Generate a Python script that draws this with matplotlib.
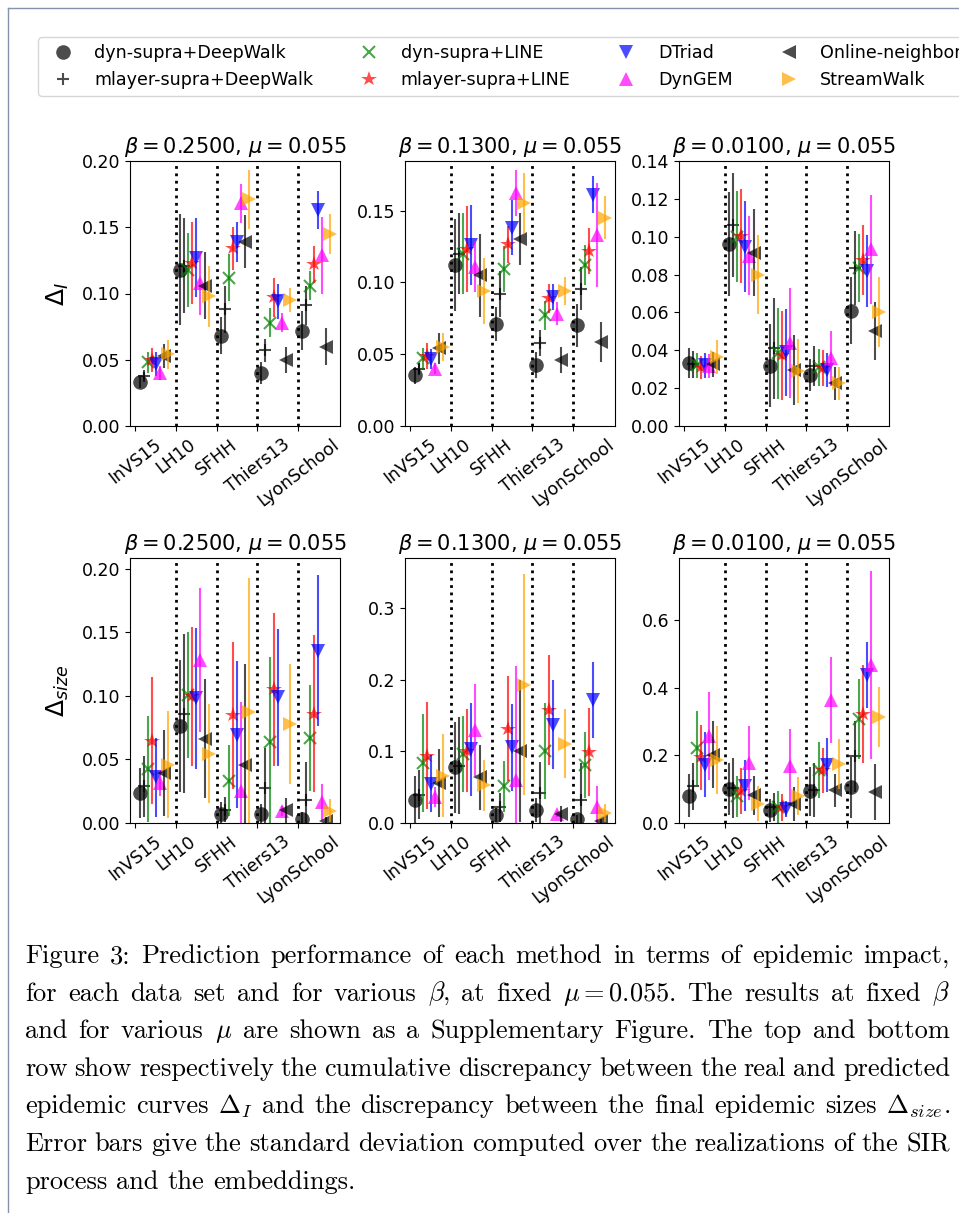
import matplotlib
matplotlib.use('Agg')
import matplotlib.pyplot as plt
from matplotlib.lines import Line2D
import numpy as np

# datasets and methods
DATASETS = ['InVS15', 'LH10', 'SFHH', 'Thiers13', 'LyonSchool']
METHODS = ['dyn-supra+DeepWalk', 'mlayer-supra+DeepWalk', 'dyn-supra+LINE', 'mlayer-supra+LINE',
           'DTriad', 'DynGEM', 'Online-neighbor', 'StreamWalk']
MARKERS = ['o', '+', 'x', '*', 'v', '^', '<', '>']
COLORS = ['k', 'k', 'g', 'r', 'b', 'magenta', 'k', 'orange']
BETAS = [0.25, 0.13, 0.01]
MU = 0.055

# rows = methods, columns = datasets
# Delta_I, beta = 0.25
DI_B025 = [[0.033, 0.118, 0.068, 0.040, 0.072],
           [0.038, 0.121, 0.088, 0.057, 0.091],
           [0.048, 0.118, 0.112, 0.078, 0.106],
           [0.050, 0.123, 0.134, 0.097, 0.122],
           [0.047, 0.127, 0.139, 0.094, 0.163],
           [0.040, 0.108, 0.168, 0.078, 0.129],
           [0.053, 0.106, 0.139, 0.050, 0.060],
           [0.054, 0.098, 0.171, 0.095, 0.145]]
DI_B025_ERR = [[0.004, 0.042, 0.014, 0.008, 0.015],
               [0.003, 0.036, 0.018, 0.009, 0.015],
               [0.008, 0.028, 0.018, 0.011, 0.011],
               [0.009, 0.031, 0.016, 0.015, 0.014],
               [0.009, 0.030, 0.015, 0.013, 0.014],
               [0.005, 0.024, 0.015, 0.007, 0.029],
               [0.009, 0.025, 0.020, 0.010, 0.014],
               [0.011, 0.023, 0.022, 0.009, 0.015]]

# Delta_I, beta = 0.13
DI_B013 = [[0.0354, 0.112, 0.071, 0.0426, 0.070],
           [0.040, 0.120, 0.092, 0.0575, 0.0955],
           [0.047, 0.120, 0.109, 0.077, 0.112],
           [0.049, 0.123, 0.1265, 0.089, 0.1216],
           [0.0466, 0.126, 0.138, 0.0897, 0.161],
           [0.040, 0.111, 0.162, 0.078, 0.133],
           [0.054, 0.105, 0.130, 0.046, 0.0587],
           [0.055, 0.094, 0.155, 0.094, 0.145]]
DI_B013_ERR = [[0.006, 0.032, 0.012, 0.009, 0.015],
               [0.004, 0.028, 0.016, 0.009, 0.015],
               [0.007, 0.028, 0.016, 0.010, 0.014],
               [0.009, 0.030, 0.013, 0.010, 0.016],
               [0.007, 0.028, 0.019, 0.009, 0.013],
               [0.004, 0.018, 0.016, 0.008, 0.036],
               [0.011, 0.029, 0.018, 0.009, 0.014],
               [0.010, 0.023, 0.021, 0.010, 0.015]]

# Delta_I, beta = 0.01
DI_B001 = [[0.0331, 0.096, 0.0319, 0.027, 0.061],
           [0.0326, 0.106, 0.041, 0.0317, 0.0836],
           [0.032, 0.100, 0.0384, 0.031, 0.0836],
           [0.031, 0.1003, 0.0375, 0.0308, 0.0877],
           [0.032, 0.0947, 0.039, 0.0296, 0.082],
           [0.0317, 0.090, 0.044, 0.0357, 0.0933],
           [0.0327, 0.0915, 0.0296, 0.0225, 0.050],
           [0.0363, 0.080, 0.0292, 0.0225, 0.060]]
DI_B001_ERR = [[0.008, 0.0275, 0.022, 0.0085, 0.0176],
               [0.007, 0.0275, 0.0265, 0.0105, 0.0195],
               [0.0065, 0.024, 0.024, 0.0097, 0.018],
               [0.006, 0.025, 0.0235, 0.0095, 0.0187],
               [0.0065, 0.024, 0.023, 0.0088, 0.019],
               [0.0065, 0.021, 0.029, 0.0145, 0.029],
               [0.0066, 0.023, 0.0185, 0.0085, 0.0153],
               [0.009, 0.021, 0.017, 0.0086, 0.0185]]

# Delta_size, beta = 0.25
DS_B025 = [[0.0236, 0.076, 0.0073, 0.0073, 0.0034],
           [0.0288, 0.086, 0.0105, 0.0275, 0.0178],
           [0.0425, 0.101, 0.0333, 0.0637, 0.0668],
           [0.0647, 0.0996, 0.0847, 0.105, 0.086],
           [0.036, 0.098, 0.0695, 0.0988, 0.1355],
           [0.0315, 0.128, 0.0249, 0.0092, 0.0165],
           [0.0393, 0.0663, 0.0459, 0.010, 0.0018],
           [0.0459, 0.0545, 0.0873, 0.0778, 0.0097]]
DS_B025_ERR = [[0.020, 0.052, 0.009, 0.008, 0.005],
               [0.024, 0.0625, 0.010, 0.0315, 0.030],
               [0.042, 0.0495, 0.028, 0.067, 0.042],
               [0.050, 0.0545, 0.058, 0.060, 0.062],
               [0.031, 0.0555, 0.058, 0.054, 0.0595],
               [0.010, 0.0565, 0.070, 0.004, 0.0145],
               [0.034, 0.047, 0.079, 0.010, 0.003],
               [0.042, 0.039, 0.105, 0.047, 0.009]]

# Delta_size, beta = 0.13
DS_B013 = [[0.0316, 0.0777, 0.0116, 0.0177, 0.0056],
           [0.0395, 0.080, 0.022, 0.042, 0.0326],
           [0.0837, 0.0967, 0.051, 0.101, 0.0814],
           [0.094, 0.101, 0.1316, 0.158, 0.099],
           [0.055, 0.103, 0.1056, 0.137, 0.172],
           [0.036, 0.130, 0.0605, 0.0126, 0.023],
           [0.0558, 0.0637, 0.101, 0.013, 0.0023],
           [0.066, 0.0525, 0.193, 0.1107, 0.014]]
DS_B013_ERR = [[0.034, 0.064, 0.010, 0.017, 0.006],
               [0.034, 0.068, 0.020, 0.043, 0.051],
               [0.068, 0.053, 0.036, 0.067, 0.046],
               [0.075, 0.058, 0.073, 0.077, 0.061],
               [0.040, 0.065, 0.061, 0.062, 0.053],
               [0.014, 0.064, 0.159, 0.004, 0.029],
               [0.048, 0.045, 0.099, 0.011, 0.003],
               [0.058, 0.036, 0.154, 0.048, 0.012]]

# Delta_size, beta = 0.01
DS_B001 = [[0.081, 0.1007, 0.0375, 0.094, 0.1056],
           [0.1086, 0.1037, 0.047, 0.0987, 0.1974],
           [0.222, 0.079, 0.047, 0.158, 0.308],
           [0.195, 0.0938, 0.047, 0.156, 0.324],
           [0.173, 0.1106, 0.0415, 0.171, 0.439],
           [0.257, 0.1777, 0.170, 0.365, 0.469],
           [0.2025, 0.082, 0.057, 0.0967, 0.0918],
           [0.1875, 0.057, 0.081, 0.1747, 0.314]]
DS_B001_ERR = [[0.063, 0.077, 0.035, 0.072, 0.090],
               [0.070, 0.090, 0.042, 0.080, 0.105],
               [0.111, 0.060, 0.048, 0.083, 0.118],
               [0.096, 0.068, 0.040, 0.067, 0.145],
               [0.097, 0.075, 0.025, 0.080, 0.098],
               [0.130, 0.109, 0.108, 0.128, 0.278],
               [0.100, 0.058, 0.050, 0.048, 0.083],
               [0.101, 0.052, 0.056, 0.073, 0.090]]

CAPTION = [
    "Figure 3: Prediction performance of each method in terms of epidemic impact,",
    r"for each data set and for various $\beta$, at fixed $\mu=0.055$. The results at fixed $\beta$",
    r"and for various $\mu$ are shown as a Supplementary Figure. The top and bottom",
    "row show respectively the cumulative discrepancy between the real and predicted",
    r"epidemic curves $\Delta_I$ and the discrepancy between the final epidemic sizes $\Delta_{size}$.",
    "Error bars give the standard deviation computed over the realizations of the SIR",
    "process and the embeddings.",
]

plt.rcParams['font.size'] = 12.5

W, H = 959, 1213
fig = plt.figure(figsize=(W / 100, H / 100), dpi=100)

# panel layout in pixels: (left, bottom)
lefts = [130, 405, 679]
bottoms = [426, 823]
AX_W, AX_H = 210, 265

panels = [[(DI_B025, DI_B025_ERR), (DI_B013, DI_B013_ERR), (DI_B001, DI_B001_ERR)],
          [(DS_B025, DS_B025_ERR), (DS_B013, DS_B013_ERR), (DS_B001, DS_B001_ERR)]]
ylims = [[0.20, 0.1845, 0.14], [0.2084, 0.37, 0.785]]
yticks = [[np.arange(0, 0.201, 0.05), np.arange(0, 0.151, 0.05), np.arange(0, 0.141, 0.02)],
          [np.arange(0, 0.201, 0.05), np.arange(0, 0.31, 0.1), np.arange(0, 0.61, 0.2)]]
ylabels = [r'$\Delta_I$', r'$\Delta_{size}$']

xbase = np.arange(len(DATASETS))
handles = []
for r in range(2):
    for c in range(3):
        ax = fig.add_axes([lefts[c] / W, 1 - bottoms[r] / H, AX_W / W, AX_H / H])
        vals, errs = panels[r][c]
        for m in range(len(METHODS)):
            xs = xbase + 0.1 * (m + 1)
            ax.errorbar(xs, vals[m], yerr=errs[m], fmt='none', ecolor=COLORS[m],
                        elinewidth=1.5, alpha=0.7)
            if MARKERS[m] in ('+', 'x'):
                style = dict(ms=9, mew=1.5)
            else:
                style = dict(ms=10.5 if MARKERS[m] != '*' else 11.5, mew=0)
            ln, = ax.plot(xs, vals[m], ls='none', marker=MARKERS[m], color=COLORS[m],
                          alpha=0.7, label=METHODS[m], **style)
            if r == 0 and c == 0:
                handles.append(ln)
        for i in range(1, len(DATASETS)):
            ax.axvline(i, color='k', ls=':', lw=2)
        ax.set_ylim(0, ylims[r][c])
        ax.set_yticks(yticks[r][c])
        ax.set_xticks(xbase)
        ax.set_xticklabels(DATASETS, rotation=38, ha='center')
        ax.set_title(r'$\beta={:.4f}$, $\mu={:.3f}$'.format(BETAS[c], MU), fontsize=15)
        if c == 0:
            ax.set_ylabel(ylabels[r], fontsize=18, labelpad=8)

fig.legend(handles=handles, ncol=4, loc='upper left', borderaxespad=0,
           bbox_to_anchor=(38 / W, 1 - 37 / H), fontsize=12.6, columnspacing=2.2)

# page border of the screenshot
border = '#8494a8'
fig.add_artist(Line2D([7.5 / W, 7.5 / W], [0, 1 - 8 / H], color=border, lw=1))
fig.add_artist(Line2D([7.5 / W, 1], [1 - 8 / H, 1 - 8 / H], color=border, lw=1))

# justified caption
renderer = fig.canvas.get_renderer()
x0, x1 = 25, 950
base0, step = 963, 37.6
cap_size = 19
for k, line in enumerate(CAPTION):
    words = line.split(' ')
    texts = [fig.text(0, 1 - (base0 + k * step) / H, w, fontsize=cap_size, family='cmr10',
                      math_fontfamily='cm', va='baseline', ha='left') for w in words]
    widths = [t.get_window_extent(renderer=renderer).width for t in texts]
    if k < len(CAPTION) - 1:
        gap = (x1 - x0 - sum(widths)) / (len(words) - 1)
    else:
        gap = 0.333 * cap_size * 100 / 72
    x = x0
    for t, wd in zip(texts, widths):
        t.set_x(x / W)
        x += wd + gap

fig.savefig('out.png', dpi=100)
